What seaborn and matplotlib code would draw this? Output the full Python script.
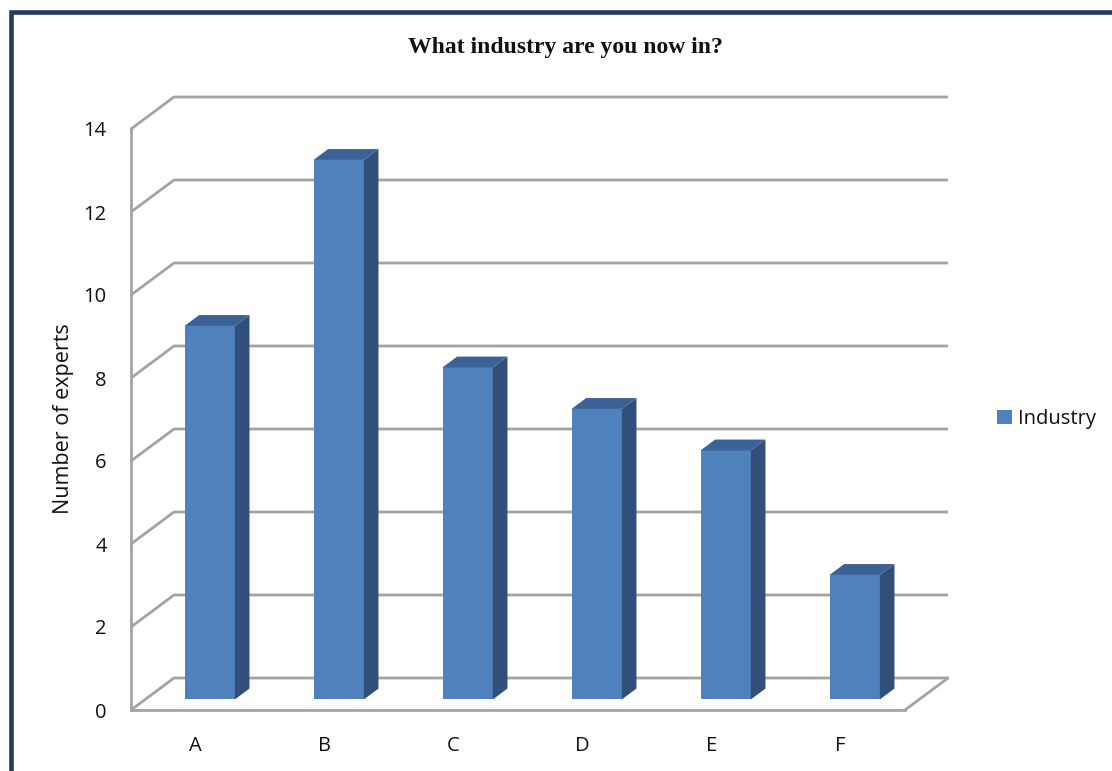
import matplotlib
matplotlib.use("Agg")
import matplotlib.pyplot as plt
from matplotlib.patches import Polygon, Rectangle
import seaborn as sns

# Survey answers: number of experts per industry
categories = ["A", "B", "C", "D", "E", "F"]
experts = [9, 13, 8, 7, 6, 3]
series_name = "Industry"
y_ticks = [0, 2, 4, 6, 8, 10, 12, 14]
title = "What industry are you now in?"
y_label = "Number of experts"

FRONT = "#4F81BD"
SIDE = "#30507A"
TOP = "#3A6296"
GRID = "#A3A3A3"
BORDER = "#213C5E"
TEXT = "#111111"
FS = 14.5

W, H = 1112, 771
sns.set_style("white")
plt.rcParams["font.family"] = ["Open Sans", "DejaVu Sans"]

fig = plt.figure(figsize=(W / 100, H / 100), dpi=100)
# axes = front plane of the pseudo-3D box
ax = fig.add_axes([131 / W, (H - 710) / H, (905 - 131) / W, (710 - 129) / H])
n = len(categories)
ax.set_xlim(-0.5, n - 0.5)
ax.set_ylim(y_ticks[0], y_ticks[-1])

# oblique depth vector (data units) from the front plane to the back wall
DX = 43 / ((905 - 131) / n)
DY = 32 / ((710 - 129) / (y_ticks[-1] - y_ticks[0]))
F0, F1 = 0.33, 0.67  # bar front / back depth fractions

# back wall gridlines with their slanted side-wall part
x_left, x_right = -0.5, n - 0.5
for v in y_ticks:
    ax.plot([x_left, x_left + DX, x_right + DX], [v, v + DY, v + DY],
            color=GRID, lw=2, clip_on=False, zorder=1, solid_capstyle="butt")
# right edge of the floor
ax.plot([x_right, x_right + DX], [0, DY], color=GRID, lw=2,
        clip_on=False, zorder=1)

sns.barplot(x=categories, y=experts, color=FRONT, saturation=1, width=0.39,
            label=series_name, ax=ax, zorder=3)

d = F1 - F0
for p in ax.patches:
    p.set_x(p.get_x() + F0 * DX)
    p.set_y(p.get_y() + F0 * DY)
    p.set_edgecolor("none")
    p.set_clip_on(False)
    x0 = p.get_x()
    x1 = x0 + p.get_width()
    y0 = p.get_y()
    y1 = y0 + p.get_height()
    side = Polygon([(x1, y0), (x1 + d * DX, y0 + d * DY),
                    (x1 + d * DX, y1 + d * DY), (x1, y1)],
                   closed=True, facecolor=SIDE, edgecolor="none",
                   zorder=3, clip_on=False)
    top = Polygon([(x0, y1), (x1, y1), (x1 + d * DX, y1 + d * DY),
                   (x0 + d * DX, y1 + d * DY)],
                  closed=True, facecolor=TOP, edgecolor="none",
                  zorder=3, clip_on=False)
    ax.add_patch(side)
    ax.add_patch(top)

# axes frame
for s in ["top", "right"]:
    ax.spines[s].set_visible(False)
for s in ["left", "bottom"]:
    ax.spines[s].set_color(GRID)
    ax.spines[s].set_linewidth(2)
    ax.spines[s].set_zorder(2)

ax.set_yticks(y_ticks)
ax.set_yticklabels([str(t) for t in y_ticks])
ax.tick_params(axis="y", direction="out", length=4.5, width=1.5, color=GRID,
               pad=13, labelsize=FS, labelcolor=TEXT)
ax.set_xticks(range(n))
ax.set_xticklabels(categories)
ax.set_xticks([i - 0.5 for i in range(n + 1)], minor=True)
ax.tick_params(axis="x", which="major", length=0, pad=19, labelsize=FS,
               labelcolor=TEXT)
ax.tick_params(axis="x", which="minor", direction="out", length=5.5,
               width=1.5, color=GRID)
ax.set_xlabel("")

ax.set_ylabel(y_label, fontsize=15.5, va="center", color=TEXT)
ax.yaxis.set_label_coords((63 - 131) / (905 - 131), (710 - 419) / (710 - 129))

fig.text(565 / W, 1 - 53 / H, title, ha="center", va="baseline",
         family="Liberation Serif", fontweight="bold", fontsize=17,
         color=TEXT)

leg = ax.legend(loc="center left", bbox_to_anchor=(997 / W, 1 - 419 / H),
                bbox_transform=fig.transFigure, frameon=False,
                handlelength=0.72, handleheight=0.72, handletextpad=0.3,
                borderaxespad=0, borderpad=0, fontsize=FS)
for t in leg.get_texts():
    t.set_color(TEXT)

# chart frame (continues past the right and bottom edges)
fig.add_artist(Rectangle((10.5 / W, -0.1), 1.2, 1.1 - 12.5 / H,
                         transform=fig.transFigure, fill=False,
                         lw=3.3, edgecolor=BORDER))

fig.savefig("out.png", dpi=100)
